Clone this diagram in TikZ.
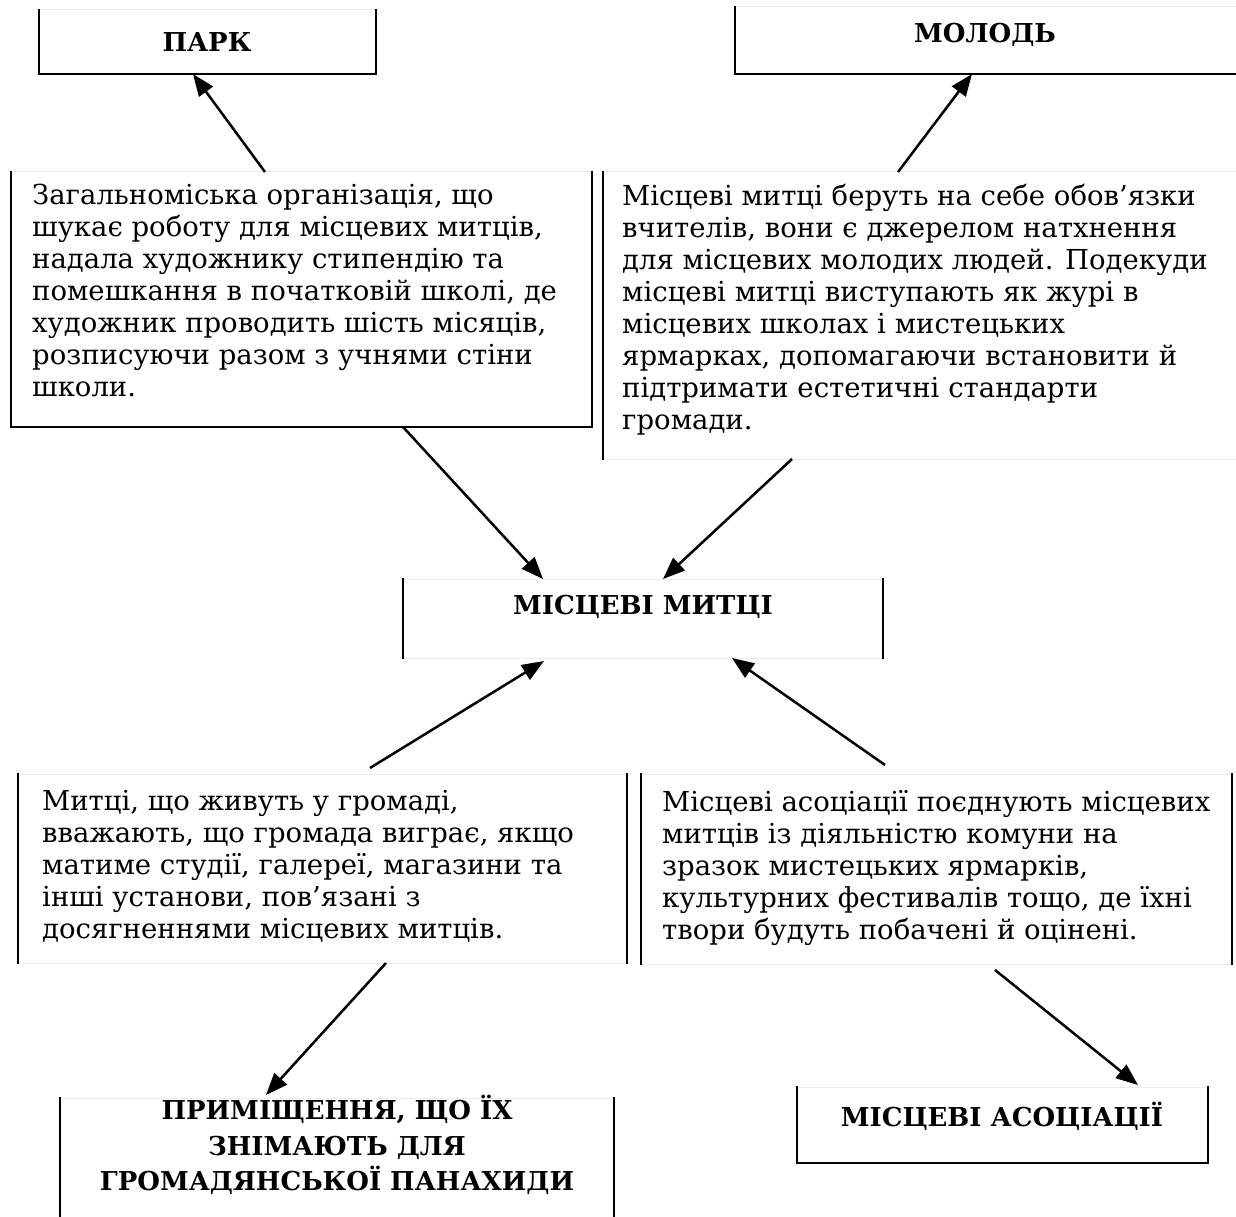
\documentclass[tikz,border=0pt]{standalone}
\usepackage{fontspec}
\setmainfont{DejaVu Serif}
\usetikzlibrary{arrows.meta}
\begin{document}
\begin{tikzpicture}[x=1pt,y=-1pt,
  frame/.style={draw=none,inner sep=0pt,outer sep=0pt},
  edge/.style={line width=2pt,line cap=rect},
  faint/.style={draw=black!7,line width=1pt},
  arr/.style={-{Triangle[length=22pt,width=17pt]},line width=2.5pt},
  body/.style={font=\fontsize{27.5}{32}\selectfont,align=left,inner sep=0pt,anchor=north west},
  head/.style={font=\bfseries\fontsize{26}{35.5}\selectfont,align=center,inner sep=0pt}]
\useasboundingbox (0,0) rectangle (1236,1217);
\fill[white] (0,0) rectangle (1236,1217);

% boxes
\node[frame,minimum width=337,minimum height=64] (park) at (207.5,42) {};
\node[frame,minimum width=525,minimum height=67] (molod) at (997.5,40.5) {};
\node[frame,minimum width=581,minimum height=255] (b1) at (301.5,299.5) {};
\node[frame,minimum width=657,minimum height=287] (b2) at (931.5,315.5) {};
\node[frame,minimum width=480,minimum height=79] (mid) at (643,618.5) {};
\node[frame,minimum width=609,minimum height=189] (b3) at (322.5,868.5) {};
\node[frame,minimum width=591,minimum height=190] (b4) at (936.5,869) {};
\node[frame,minimum width=554,minimum height=142] (b5) at (337,1169) {};
\node[frame,minimum width=411,minimum height=76] (b6) at (1002.5,1125) {};

% faint edges
\draw[faint] (park.north west) -- (park.north east);
\draw[faint] (molod.north west) -- (molod.north east);
\draw[faint] (b1.north west) -- (b1.north east);
\draw[faint] (b2.north west) -- (b2.north east);
\draw[faint] (b2.south west) -- (b2.south east);
\draw[faint] (mid.north west) -- (mid.north east);
\draw[faint] (mid.south west) -- (mid.south east);
\draw[faint] (b3.north west) -- (b3.north east);
\draw[faint] (b3.south west) -- (b3.south east);
\draw[faint] (b4.north west) -- (b4.north east);
\draw[faint] (b4.south west) -- (b4.south east);
\draw[faint] (b5.north west) -- (b5.north east);
\draw[faint] (b6.north west) -- (b6.north east);

% solid edges
\draw[edge] (park.north west) -- (park.south west) -- (park.south east) -- (park.north east);
\draw[edge] (molod.north west) -- (molod.south west) -- (molod.south east);
\draw[edge] (b1.north west) -- (b1.south west) -- (b1.south east) -- (b1.north east);
\draw[edge] (b2.north west) -- (b2.south west);
\draw[edge] (mid.north west) -- (mid.south west);
\draw[edge] (mid.north east) -- (mid.south east);
\draw[edge] (b3.north west) -- (b3.south west);
\draw[edge] (b3.north east) -- (b3.south east);
\draw[edge] (b4.north west) -- (b4.south west);
\draw[edge] (b4.north east) -- (b4.south east);
\draw[edge] (b5.north west) -- (b5.south west);
\draw[edge] (b5.north east) -- (b5.south east);
\draw[edge] (b6.north west) -- (b6.south west) -- (b6.south east) -- (b6.north east);

% texts
\node[head] (tpark) at (207,42) {ПАРК};
\node[head] (tmolod) at (985,35) {МОЛОДЬ};
\node[head] (tmid) at (643,607) {МІСЦЕВІ МИТЦІ};
\node[head] (tb5) at (337,1145) {ПРИМІЩЕННЯ, ЩО ЇХ\\ЗНІМАЮТЬ ДЛЯ\\ГРОМАДЯНСЬКОЇ ПАНАХИДИ};
\node[head] (tb6) at (1002,1116) {МІСЦЕВІ АСОЦІАЦІЇ};

\node[body] (t1) at (32,184) {Загальноміська організація, що\\шукає роботу для місцевих митців,\\надала художнику стипендію та\\помешкання в початковій школі, де\\художник проводить шість місяців,\\розписуючи разом з учнями стіни\\школи.};
\node[body] (t2) at (622,184) {Місцеві митці беруть на себе обов’язки\\вчителів, вони є джерелом натхнення\\для місцевих молодих людей. Подекуди\\місцеві митці виступають як журі в\\місцевих школах і мистецьких\\ярмарках, допомагаючи встановити й\\підтримати естетичні стандарти\\громади.};
\node[body] (t3) at (42,790) {Митці, що живуть у громаді,\\вважають, що громада виграє, якщо\\матиме студії, галереї, магазини та\\інші установи, пов’язані з\\досягненнями місцевих митців.};
\node[body] (t4) at (662,790) {Місцеві асоціації поєднують місцевих\\митців із діяльністю комуни на\\зразок мистецьких ярмарків,\\культурних фестивалів тощо, де їхні\\твори будуть побачені й оцінені.};

% arrows
\draw[arr] ([xshift=-36.5]b1.north) -- ([xshift=-14.5]park.south);
\draw[arr] ([xshift=-33.5]b2.north) -- ([xshift=-25.5]molod.south);
\draw[arr] ([xshift=101.5]b1.south) -- ([xshift=-100]mid.north);
\draw[arr] ([xshift=-139.5]b2.south) -- ([xshift=20]mid.north);
\draw[arr] ([xshift=47.5,yshift=6]b3.north) -- ([xshift=-99,yshift=-3]mid.south);
\draw[arr] ([xshift=-51.5,yshift=9]b4.north) -- ([xshift=89]mid.south);
\draw[arr] ([xshift=63.5]b3.south) -- ([xshift=-71,yshift=3]b5.north);
\draw[arr] ([xshift=58.5,yshift=-6]b4.south) -- ([xshift=135.5,yshift=2]b6.north);
\end{tikzpicture}
\end{document}
